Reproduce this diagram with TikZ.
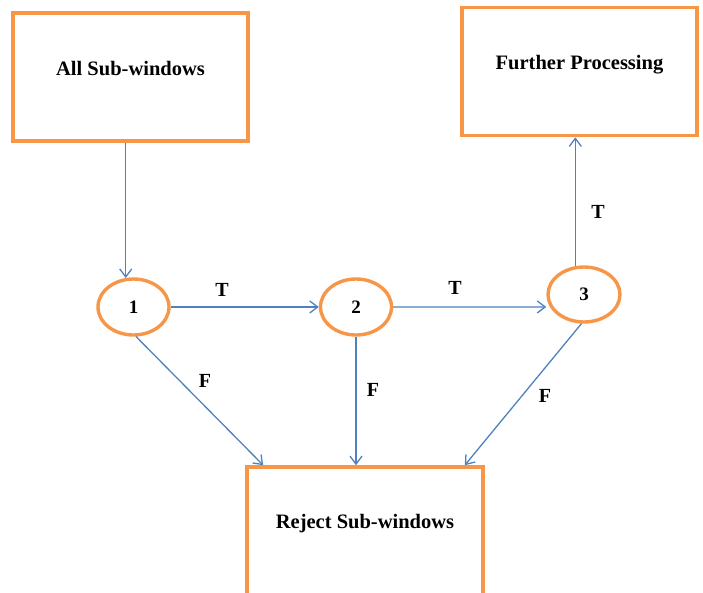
\documentclass[tikz,border=0pt]{standalone}
\usepackage{fontspec}
\setmainfont{Liberation Serif}
\usetikzlibrary{shapes.geometric,arrows.meta,calc}
\definecolor{boxorange}{RGB}{247,150,70}
\definecolor{arrowblue}{RGB}{79,129,189}
\begin{document}
\begin{tikzpicture}[x=1pt,y=-1pt,
  box/.style={draw=boxorange,line width=3.6pt,rectangle,minimum width=235pt,minimum height=128pt,inner sep=0pt,font=\fontsize{20.5}{24}\selectfont\bfseries,text height=14pt},
  stage/.style={draw=boxorange,line width=3.4pt,ellipse,minimum width=71pt,minimum height=56pt,inner sep=0pt,font=\fontsize{19}{22}\selectfont\bfseries},
  conn/.style={draw=arrowblue,line width=1.3pt,-{Straight Barb[length=8pt,width=12pt,line width=1.3pt]}},
  lbl/.style={inner sep=0pt,font=\fontsize{20}{24}\selectfont\bfseries}]
\useasboundingbox (0,0) rectangle (703,592);
\clip (0,0) rectangle (703,592);
\node[box,text depth=18pt] (all) at (130.5,77) {All Sub-windows};
\node[box,text depth=19pt] (fp) at (579.5,71.5) {Further Processing};
\node[box,minimum width=236pt,text depth=20pt] (rj) at (365,531) {Reject Sub-windows};
\node[stage] (s1) at (133.5,307) {1};
\node[stage] (s2) at (356,307) {2};
\node[stage,minimum width=72pt,minimum height=55pt] (s3) at (584,294.5) {3};
\draw[conn] (all.south -| s1.105) -- (s1.105);
\draw[conn] (s1.east) -- (s2.west);
\draw[conn] (s2.east) -- (s3.200 -| s3.west);
\draw[conn] (s3.107) -- (s3.107 |- fp.south);
\draw[conn] (s1.275) -- ($(rj.north west)+(18,0)$);
\draw[conn] (s2.south) -- (s2.south |- rj.north);
\draw[conn] (s3.265) -- ($(rj.north east)+(-20,0)$);
\node[lbl] (t1) at (222,290) {T};
\node[lbl] (t2) at (455,288) {T};
\node[lbl] (t3) at (598,212) {T};
\node[lbl] (f1) at (205,381) {F};
\node[lbl] (f2) at (373,390) {F};
\node[lbl] (f3) at (545,396) {F};
\end{tikzpicture}
\end{document}
